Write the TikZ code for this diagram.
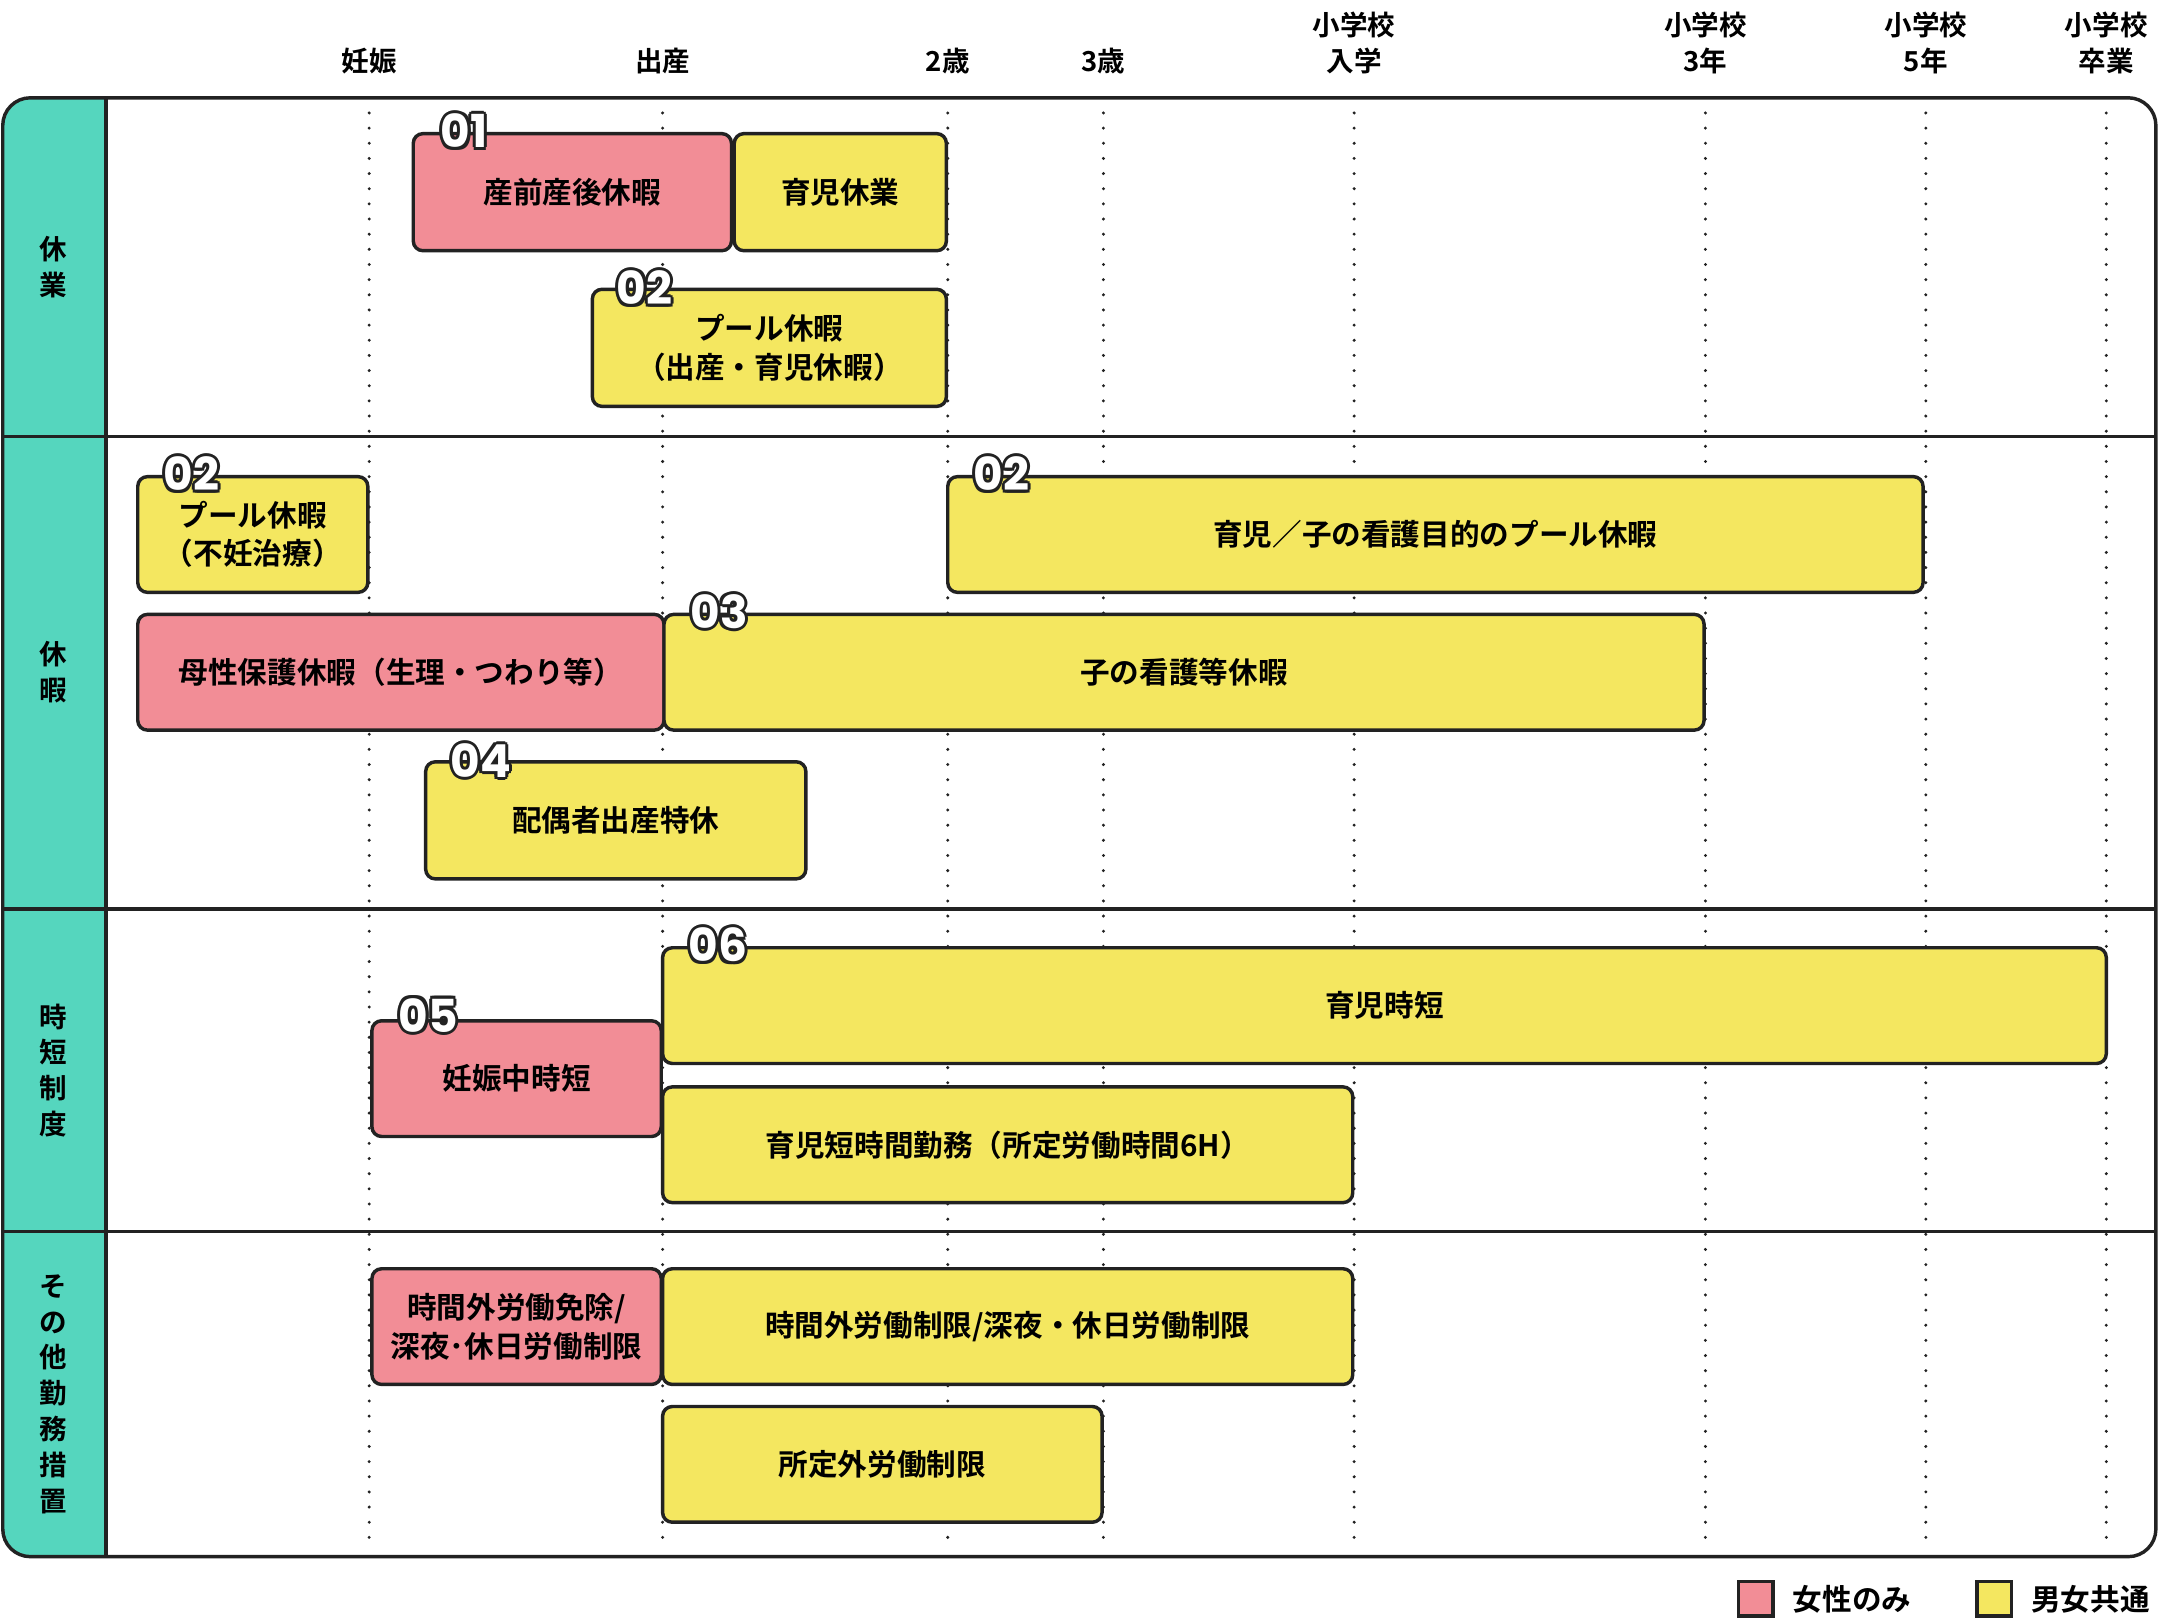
\documentclass[tikz,border=0pt]{standalone}
\usepackage{fontspec}
\setmainfont{Noto Sans CJK JP}[BoldFont={* Bold}]
\newfontfamily\numfont{Poppins}[BoldFont={* Bold}]
\definecolor{pk}{HTML}{F28D96}
\definecolor{yl}{HTML}{F4E760}
\definecolor{tl}{HTML}{55D6BE}
\definecolor{ln}{HTML}{222222}
\tikzset{
 bar/.style={draw=ln,line width=2.5pt,rounded corners=7pt},
 lbl/.style={font=\bfseries\fontsize{21.5}{28}\selectfont,align=center},
 tick/.style={font=\bfseries\fontsize{20}{26}\selectfont,align=center,anchor=south},
 side/.style={font=\bfseries\fontsize{20}{26}\selectfont,align=center},
 grid/.style={line width=2.4pt,dash pattern=on 0pt off 11pt,line cap=round,ln},
}
\newcommand{\badge}[3]{%
 \foreach \dx/\dy in {-2.2/0,2.2/0,0/-2.2,0/2.2,-1.6/-1.6,1.6/1.6,-1.6/1.6,1.6/-1.6}
  \node[font=\numfont\bfseries\fontsize{33}{33}\selectfont,text=ln] at ([xshift=\dx pt,yshift=\dy pt]#1) {#2};
 \node[font=\numfont\bfseries\fontsize{33}{33}\selectfont,text=white] (#3) at (#1) {#2};}
\begin{document}
\begin{tikzpicture}[x=1pt,y=-1pt]
\useasboundingbox (0,0) rectangle (1568,1175);
\begin{scope}
\clip[rounded corners=20pt] (2,71) rectangle (1565,1130);
\fill[tl] (2,71) rectangle (77,1130);
\end{scope}
\draw[ln,line width=2.5pt] (77,71) -- (77,1130);
\foreach \y in {317,660,894} \draw[ln,line width=2.5pt] (2,\y) -- (1565,\y);
\draw[ln,line width=2.5pt,rounded corners=20pt] (2,71) rectangle (1565,1130);
\foreach \x in {268,481,688,801,983,1238,1398,1529} \draw[grid] (\x,82) -- (\x,1122);
\node[tick] (t1) at (268,57) {妊娠};
\node[tick] (t2) at (481,57) {出産};
\node[tick] (t3) at (688,57) {2歳};
\node[tick] (t4) at (801,57) {3歳};
\node[tick] (t5) at (983,57) {小学校\\入学};
\node[tick] (t6) at (1238,57) {小学校\\3年};
\node[tick] (t7) at (1398,57) {小学校\\5年};
\node[tick] (t8) at (1529,57) {小学校\\卒業};
\node[side] (s1) at (39,194) {休\\業};
\node[side] (s2) at (39,488) {休\\暇};
\node[side] (s3) at (39,777) {時\\短\\制\\度};
\node[side] (s4) at (39,1012) {そ\\の\\他\\勤\\務\\措\\置};
\newcommand{\bx}[7]{\draw[bar,fill=#5] (#1,#2) rectangle (#3,#4); \node[lbl] (#7) at ({(#1+#3)/2},{(#2+#4)/2}) {#6};}
\bx{300}{97}{531}{182}{pk}{産前産後休暇}{b1}
\bx{533}{97}{687}{182}{yl}{育児休業}{b2}
\bx{430}{210}{687}{295}{yl}{プール休暇\\（出産・育児休暇）}{b3}
\bx{100}{346}{267}{430}{yl}{プール休暇\\（不妊治療）}{b4}
\bx{688}{346}{1396}{430}{yl}{育児／子の看護目的のプール休暇}{b5}
\bx{100}{446}{482}{530}{pk}{母性保護休暇（生理・つわり等）}{b6}
\bx{482}{446}{1237}{530}{yl}{子の看護等休暇}{b7}
\bx{309}{553}{585}{638}{yl}{配偶者出産特休}{b8}
\bx{481}{688}{1529}{772}{yl}{育児時短}{b9}
\bx{270}{741}{480}{825}{pk}{妊娠中時短}{b10}
\bx{481}{789}{982}{873}{yl}{育児短時間勤務（所定労働時間6H）}{b11}
\bx{270}{921}{480}{1005}{pk}{時間外労働免除/\\深夜･休日労働制限}{b12}
\bx{481}{921}{982}{1005}{yl}{時間外労働制限/深夜・休日労働制限}{b13}
\bx{481}{1021}{800}{1105}{yl}{所定外労働制限}{b14}
\badge{337,95}{01}{n1}
\badge{468,209}{02}{n2}
\badge{139,344}{02}{n3}
\badge{727,344}{02}{n4}
\badge{522,444}{03}{n5}
\badge{349,552}{04}{n6}
\badge{311,737}{05}{n7}
\badge{521,686}{06}{n8}
\draw[ln,line width=2.5pt,fill=pk] (1262,1148) rectangle (1287,1173);
\node[lbl,anchor=west] (l1) at (1298,1161) {女性のみ};
\draw[ln,line width=2.5pt,fill=yl] (1435,1148) rectangle (1460,1173);
\node[lbl,anchor=west] (l2) at (1471,1161) {男女共通};
\end{tikzpicture}
\end{document}
